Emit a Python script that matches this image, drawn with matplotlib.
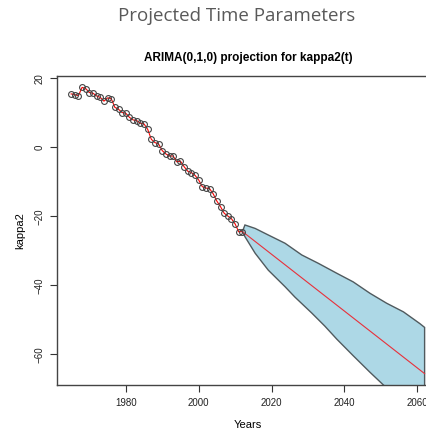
import numpy as np
import matplotlib.pyplot as plt

# observed kappa2(t)
years = np.arange(1965, 2013)
kappa2 = [15.5, 15.3, 15.0, 17.4, 17.05, 15.9, 15.7, 14.9, 14.5, 13.4,
          14.35, 14.15, 11.6, 11.05, 10.1, 9.9, 8.7, 7.96, 7.77, 7.0,
          6.8, 5.25, 2.35, 1.38, 1.0, -0.94, -1.9, -2.5, -2.5, -4.2,
          -4.0, -5.6, -6.9, -7.3, -8.1, -9.45, -11.4, -11.8, -11.97, -13.5,
          -15.6, -17.2, -19.1, -19.9, -20.7, -22.2, -24.5, -24.4]

# central projection
proj_years = [2012, 2062]
proj_mean = [-24.4, -65.6]

# fan bounds
upper_years = [2012, 2012.7, 2015.5, 2019.1, 2023.7, 2028.3, 2032.8, 2037.9,
               2042.4, 2047.0, 2051.6, 2056.2, 2060.7, 2062]
upper_vals = [-24.4, -22.5, -23.5, -25.4, -27.8, -31.2, -33.6, -36.5,
              -39.0, -42.3, -45.2, -47.7, -51.1, -52.2]
lower_years = [2012, 2012.7, 2015.5, 2019.1, 2023.7, 2026.4, 2031.0, 2034.6,
               2037.9, 2042.4, 2047.0, 2050.7, 2056.0, 2062]
lower_vals = [-24.4, -25.9, -30.7, -35.6, -40.4, -43.4, -48.0, -51.8,
              -55.6, -60.4, -65.2, -68.9, -74.0, -80.0]

fig = plt.figure(figsize=(4.27, 4.34), dpi=100)
fig.text(0.553, 0.962, 'Projected Time Parameters', ha='center', va='center',
         fontsize=13.5, color='#595959', family='Open Sans')

ax = fig.add_axes([0.1335, 0.1129, 0.894, 0.712])
ax.set_title('ARIMA(0,1,0) projection for kappa2(t)', fontsize=8.5,
             fontweight='bold', family='Liberation Sans', pad=11)

# fan
fan_x = list(upper_years) + list(lower_years[::-1])
fan_y = list(upper_vals) + list(lower_vals[::-1])
ax.fill(fan_x, fan_y, facecolor='#add8e6', edgecolor='#505a5e', lw=1.0)

ax.plot(years, kappa2, color='red', lw=0.8, zorder=3)
ax.plot(years, kappa2, 'o', ms=4.2, mfc='none', mec='#444444', mew=0.8, zorder=4)
ax.plot(proj_years, proj_mean, color='#e8303a', lw=0.8, zorder=3)

ax.set_xlim(1961.12, 2065.88)
ax.set_ylim(-68.9, 20.7)
ax.set_xticks([1980, 2000, 2020, 2040, 2060])
ax.set_yticks([20, 0, -20, -40, -60])
ax.tick_params(labelsize=7, length=5, width=0.8, color='#333333',
               labelcolor='#222222', pad=4)
for lab in ax.get_yticklabels():
    lab.set_rotation(90)
    lab.set_va('center')
for lab in ax.get_xticklabels() + ax.get_yticklabels():
    lab.set_family('Liberation Sans')
for s in ax.spines.values():
    s.set_color('#444444')
    s.set_linewidth(1.0)

ax.set_xlabel('Years', fontsize=8, family='Liberation Sans', labelpad=9)
ax.set_ylabel('kappa2', fontsize=8, family='Liberation Sans', labelpad=7)

fig.savefig('out.png', dpi=100)
